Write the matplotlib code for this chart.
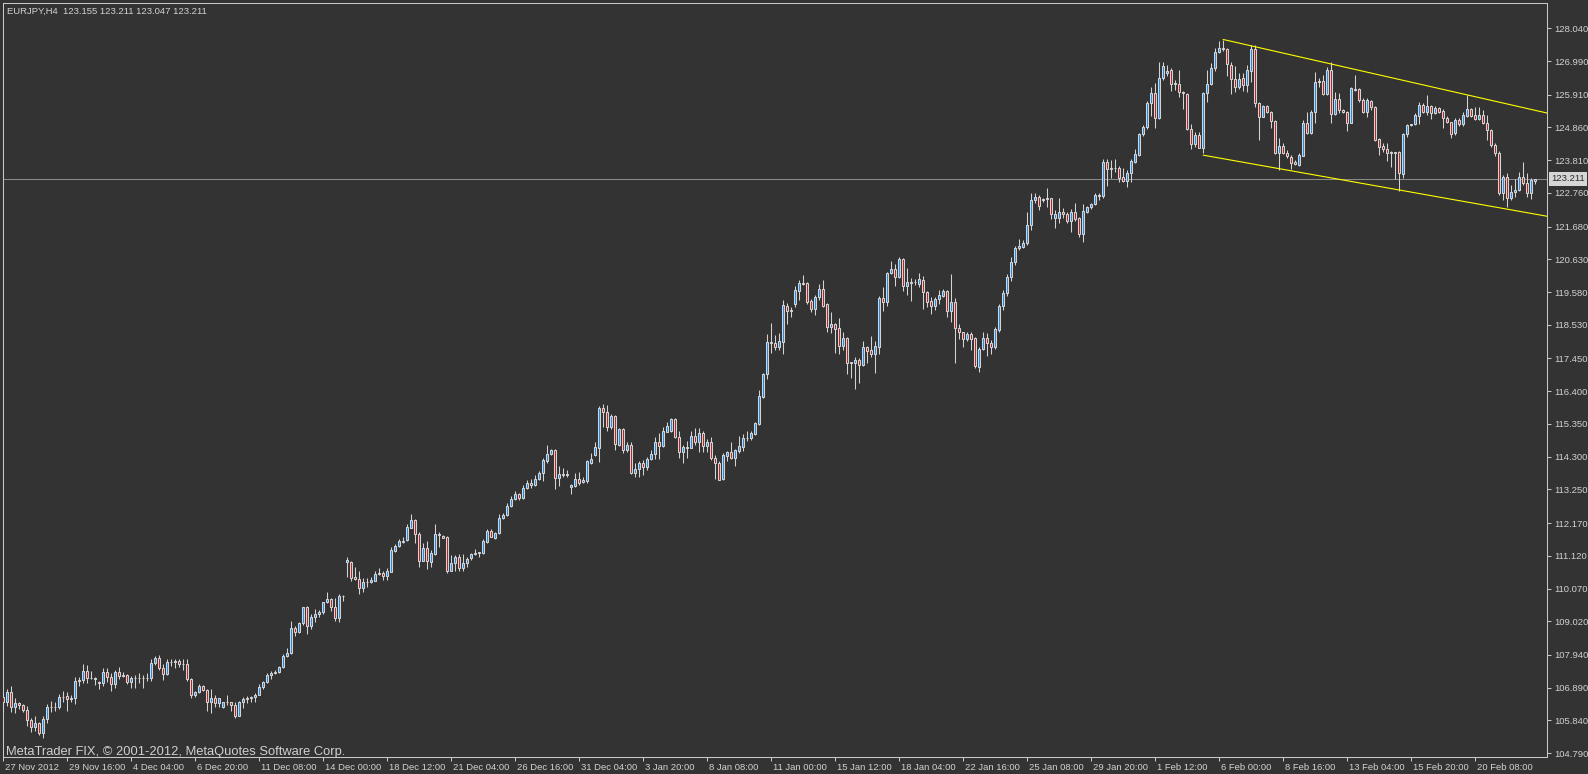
import matplotlib
matplotlib.use("Agg")
import matplotlib.pyplot as plt
from matplotlib.transforms import blended_transform_factory, ScaledTranslation
import numpy as np

header_text = "EURJPY,H4  123.155 123.211 123.047 123.211"
watermark_text = "MetaTrader FIX, \u00a9 2001-2012, MetaQuotes Software Corp."
last_price = 123.211

opens = [
    106.58, 106.42, 106.74, 106.26, 106.39, 106.33, 106.18, 105.86, 105.64, 105.75,
    105.45, 105.88, 106.26, 106.28, 106.28, 106.60, 106.62, 106.52, 106.55, 107.11,
    107.14, 107.43, 107.19, 107.21, 107.09, 107.05, 107.39, 107.25, 107.00, 107.39,
    107.28, 107.30, 107.06, 107.19, 107.19, 107.19, 107.21, 107.21, 107.67, 107.85,
    107.53, 107.32, 107.70, 107.70, 107.75, 107.64, 107.64, 107.16, 106.65, 106.74,
    106.95, 106.81, 106.44, 106.55, 106.41, 106.28, 106.42, 106.42, 106.34, 105.99,
    106.42, 106.52, 106.55, 106.60, 106.66, 106.92, 107.06, 107.30, 107.35, 107.41,
    107.54, 107.91, 107.99, 108.80, 108.69, 108.96, 109.47, 108.87, 109.17, 109.24,
    109.31, 109.63, 109.74, 109.49, 109.14, 109.83, 110.91, 110.93, 110.43, 110.38,
    110.08, 110.29, 110.27, 110.32, 110.54, 110.58, 110.47, 110.61, 111.29, 111.44,
    111.57, 111.63, 112.02, 112.27, 111.82, 110.97, 111.36, 110.93, 111.18, 111.79,
    111.77, 111.73, 110.64, 110.88, 111.07, 110.72, 110.88, 111.04, 111.18, 111.22,
    111.20, 111.57, 111.92, 111.68, 111.84, 112.32, 112.43, 112.72, 112.95, 113.10,
    112.98, 113.30, 113.45, 113.40, 113.60, 113.77, 114.17, 114.38, 114.51, 113.61,
    113.70, 113.73, 113.32, 113.37, 113.57, 113.50, 113.52, 114.11, 114.35, 114.57,
    115.85, 115.74, 115.26, 115.60, 114.68, 115.18, 114.52, 114.68, 113.77, 113.90,
    114.11, 113.96, 114.22, 114.39, 114.76, 114.65, 115.10, 115.13, 115.50, 114.92,
    114.44, 114.57, 114.59, 114.96, 114.78, 115.05, 114.65, 114.78, 114.27, 114.11,
    113.57, 114.33, 114.46, 114.27, 114.49, 114.62, 114.89, 114.89, 115.03, 115.35,
    116.23, 116.94, 117.94, 117.94, 117.83, 117.99, 119.13, 118.97, 119.20, 119.62,
    119.84, 119.88, 119.29, 119.04, 119.41, 119.68, 119.19, 118.45, 118.56, 118.42,
    117.86, 118.10, 117.29, 117.32, 117.40, 117.24, 117.81, 117.72, 117.58, 117.83,
    119.38, 119.27, 120.20, 120.31, 120.05, 120.64, 119.79, 119.88, 119.89, 119.83,
    119.97, 119.57, 119.30, 119.14, 119.35, 119.46, 119.61, 118.98, 119.25, 118.42,
    118.29, 118.06, 118.23, 118.10, 117.19, 117.75, 118.10, 117.94, 117.81, 118.36,
    119.13, 119.55, 120.05, 120.55, 120.98, 121.04, 121.14, 121.73, 122.53, 122.62,
    122.53, 122.56, 122.59, 121.94, 121.94, 122.14, 122.07, 121.86, 122.14, 121.94,
    121.43, 122.16, 122.30, 122.40, 122.67, 122.67, 123.74, 123.52, 123.55, 123.57,
    123.28, 123.15, 123.39, 123.76, 123.99, 124.64, 124.86, 125.63, 125.95, 125.15,
    126.44, 126.60, 126.70, 126.24, 126.24, 126.01, 125.93, 124.80, 124.32, 124.62,
    124.21, 125.95, 126.24, 126.76, 127.27, 127.38, 127.38, 126.86, 126.40, 126.15,
    126.43, 126.22, 126.68, 127.38, 125.63, 125.21, 125.55, 125.35, 125.07, 124.03,
    124.26, 124.05, 123.92, 123.74, 123.66, 123.95, 124.99, 124.67, 125.35, 126.31,
    126.35, 125.92, 126.70, 125.28, 125.76, 125.42, 125.35, 125.01, 126.09, 126.09,
    125.74, 125.37, 125.71, 125.53, 124.48, 124.26, 124.16, 124.06, 124.03, 124.06,
    123.37, 124.64, 124.94, 124.96, 125.24, 125.58, 125.37, 125.55, 125.31, 125.47,
    125.39, 125.15, 125.02, 124.67, 125.10, 124.96, 125.24, 125.45, 125.26, 125.12,
    125.26, 124.99, 124.78, 124.30, 124.03, 122.75, 123.28, 122.59, 122.80, 122.85,
    123.26, 123.09, 122.75, 123.155,
]

highs = [
    106.74, 106.84, 106.95, 106.55, 106.44, 106.37, 106.32, 105.93, 105.98, 105.80,
    105.98, 106.36, 106.46, 106.44, 106.68, 106.79, 106.76, 106.65, 107.25, 107.25,
    107.65, 107.62, 107.43, 107.24, 107.12, 107.51, 107.51, 107.35, 107.46, 107.55,
    107.39, 107.32, 107.28, 107.30, 107.35, 107.30, 107.35, 107.81, 107.92, 107.94,
    107.64, 107.81, 107.81, 107.81, 107.81, 107.81, 107.81, 107.19, 106.79, 107.00,
    106.98, 106.84, 106.84, 106.66, 106.57, 106.44, 106.65, 106.44, 106.42, 106.46,
    106.60, 106.64, 106.64, 106.73, 107.01, 107.12, 107.35, 107.43, 107.46, 107.59,
    107.96, 108.15, 109.03, 108.87, 109.01, 109.49, 109.51, 109.24, 109.40, 109.38,
    109.65, 109.95, 109.78, 109.78, 109.90, 109.86, 111.07, 110.95, 110.77, 110.63,
    110.42, 110.42, 110.45, 110.63, 110.72, 110.65, 110.72, 111.41, 111.49, 111.66,
    111.73, 112.13, 112.45, 112.29, 111.90, 111.54, 111.60, 111.31, 112.14, 111.87,
    111.79, 111.76, 111.15, 111.15, 111.18, 111.18, 111.07, 111.20, 111.33, 111.25,
    111.66, 111.97, 111.98, 111.90, 112.46, 112.50, 112.80, 113.05, 113.20, 113.15,
    113.38, 113.55, 113.60, 113.70, 113.85, 114.25, 114.68, 114.54, 114.54, 114.00,
    113.95, 113.87, 113.43, 113.77, 113.80, 113.64, 114.19, 114.41, 114.78, 115.93,
    115.99, 115.96, 115.66, 115.64, 115.21, 115.21, 114.78, 114.78, 114.11, 114.17,
    114.19, 114.30, 114.51, 114.92, 115.07, 115.26, 115.40, 115.53, 115.53, 115.12,
    114.68, 114.81, 115.13, 115.21, 115.21, 115.13, 114.86, 114.92, 114.35, 114.16,
    114.43, 114.49, 114.78, 114.55, 114.97, 115.02, 115.12, 115.12, 115.40, 116.44,
    117.00, 118.23, 118.58, 118.20, 118.26, 119.33, 119.24, 119.09, 119.77, 119.97,
    120.13, 119.91, 119.36, 119.49, 119.83, 119.97, 119.24, 118.95, 118.60, 118.74,
    118.31, 118.13, 117.35, 117.49, 117.45, 118.01, 117.85, 118.17, 118.02, 119.46,
    119.73, 120.21, 120.59, 120.48, 120.69, 120.66, 120.34, 120.02, 119.99, 120.18,
    120.11, 119.63, 119.43, 119.43, 119.65, 119.67, 119.65, 120.16, 119.38, 118.56,
    118.31, 118.31, 118.31, 118.13, 117.83, 118.31, 118.28, 118.04, 118.47, 119.20,
    119.65, 120.15, 120.70, 121.05, 121.27, 121.25, 122.16, 122.75, 122.75, 122.69,
    122.61, 122.91, 122.61, 122.21, 122.59, 122.27, 122.16, 122.24, 122.43, 122.00,
    122.40, 122.35, 122.45, 122.75, 122.77, 123.84, 123.84, 123.80, 123.85, 123.62,
    123.57, 123.50, 123.84, 124.16, 124.67, 124.94, 125.71, 126.17, 126.28, 126.95,
    126.95, 126.86, 126.76, 126.38, 126.70, 126.03, 125.98, 124.96, 124.72, 124.72,
    126.01, 126.70, 126.92, 127.40, 127.63, 127.66, 127.40, 126.95, 126.83, 126.62,
    126.60, 126.86, 127.50, 127.50, 125.69, 125.58, 125.58, 125.40, 125.10, 124.51,
    124.35, 124.14, 123.98, 123.82, 124.03, 125.10, 125.37, 125.42, 126.65, 126.46,
    126.54, 126.81, 126.97, 126.01, 125.98, 125.44, 125.39, 126.17, 126.54, 126.11,
    125.79, 125.79, 125.74, 125.55, 124.51, 124.35, 124.35, 124.10, 124.08, 124.12,
    124.69, 124.96, 124.97, 125.31, 125.69, 125.63, 125.90, 125.58, 125.55, 125.50,
    125.44, 125.23, 125.05, 125.15, 125.15, 125.37, 125.90, 125.47, 125.53, 125.53,
    125.42, 125.26, 124.80, 124.35, 124.11, 123.33, 123.40, 123.00, 123.20, 123.44,
    123.76, 123.41, 123.23, 123.211,
]

lows = [
    106.12, 106.32, 106.12, 106.07, 106.21, 106.12, 105.67, 105.48, 105.51, 105.37,
    105.27, 105.75, 106.10, 106.15, 106.20, 106.42, 106.15, 106.44, 106.37, 106.96,
    107.03, 107.05, 107.17, 106.98, 106.85, 106.95, 107.09, 106.80, 106.87, 107.17,
    107.22, 107.00, 106.87, 106.89, 107.03, 106.89, 107.12, 107.11, 107.62, 107.46,
    107.14, 107.30, 107.59, 107.53, 107.54, 107.46, 107.12, 106.57, 106.60, 106.71,
    106.79, 106.15, 106.09, 106.28, 106.28, 106.25, 106.34, 106.15, 105.93, 105.98,
    106.23, 106.41, 106.44, 106.44, 106.65, 106.85, 107.03, 107.17, 107.32, 107.35,
    107.51, 107.89, 107.97, 108.55, 108.63, 108.90, 108.60, 108.76, 109.01, 109.17,
    109.24, 109.60, 109.35, 109.04, 109.01, 109.68, 110.43, 110.32, 110.35, 109.89,
    109.97, 110.13, 110.24, 110.31, 110.51, 110.35, 110.35, 110.59, 111.25, 111.39,
    111.54, 111.61, 112.00, 111.54, 110.77, 110.95, 110.70, 110.77, 111.15, 111.41,
    111.68, 110.58, 110.63, 110.64, 110.63, 110.63, 110.77, 110.99, 111.15, 111.09,
    111.18, 111.54, 111.71, 111.66, 111.82, 112.30, 112.41, 112.68, 112.90, 112.90,
    112.95, 113.25, 113.30, 113.35, 113.55, 113.53, 114.09, 114.35, 113.26, 113.36,
    113.64, 113.64, 113.10, 113.34, 113.39, 113.45, 113.47, 114.07, 114.33, 114.14,
    115.26, 115.14, 115.19, 114.52, 114.64, 114.43, 114.44, 113.75, 113.64, 113.64,
    113.71, 113.87, 114.19, 114.23, 114.23, 114.60, 115.08, 115.10, 114.89, 114.27,
    114.09, 114.27, 114.57, 114.68, 114.46, 114.44, 114.46, 114.19, 113.58, 113.55,
    113.55, 114.16, 114.22, 114.00, 114.41, 114.49, 114.80, 114.84, 115.00, 115.32,
    116.17, 116.79, 117.64, 117.72, 117.72, 117.59, 118.56, 118.79, 119.09, 119.33,
    119.81, 119.20, 118.93, 118.84, 119.33, 119.11, 118.31, 118.26, 117.64, 117.58,
    117.72, 116.95, 116.83, 116.46, 116.65, 117.21, 117.32, 117.49, 116.97, 117.59,
    118.98, 119.13, 120.16, 119.77, 120.02, 119.62, 119.49, 119.30, 119.81, 119.75,
    119.04, 119.11, 118.87, 119.00, 119.20, 119.43, 118.79, 118.63, 117.29, 118.07,
    117.83, 118.01, 117.72, 117.13, 117.03, 117.72, 117.53, 117.59, 117.74, 118.30,
    119.00, 119.45, 119.95, 120.45, 120.93, 121.00, 121.09, 121.57, 122.43, 122.21,
    122.48, 122.32, 121.91, 121.62, 121.78, 121.94, 121.78, 121.52, 121.86, 121.36,
    121.20, 122.13, 122.24, 122.37, 122.53, 122.59, 122.98, 123.23, 123.44, 123.12,
    123.12, 122.96, 123.12, 123.73, 123.95, 124.60, 124.81, 125.24, 124.83, 125.13,
    126.38, 126.52, 126.04, 126.06, 125.83, 125.45, 124.78, 124.16, 124.22, 124.19,
    124.05, 125.69, 126.22, 126.68, 127.24, 127.32, 126.52, 125.92, 126.01, 126.08,
    126.04, 126.01, 126.33, 125.53, 124.46, 125.18, 125.31, 124.85, 124.01, 123.50,
    124.01, 123.87, 123.52, 123.66, 123.62, 123.94, 124.64, 124.64, 124.99, 126.15,
    125.90, 125.90, 124.99, 125.26, 125.33, 125.31, 124.75, 124.99, 126.04, 125.69,
    125.33, 125.21, 125.42, 124.43, 123.98, 124.08, 123.78, 123.60, 123.20, 122.83,
    123.23, 124.56, 124.92, 124.94, 124.97, 125.33, 125.26, 125.12, 125.29, 125.33,
    124.85, 124.99, 124.51, 124.62, 124.91, 124.92, 125.21, 125.21, 125.10, 125.10,
    124.97, 124.45, 124.24, 123.95, 122.69, 122.53, 122.30, 122.53, 122.64, 122.83,
    123.01, 122.64, 122.55, 123.047,
]

closes = [
    106.42, 106.74, 106.26, 106.39, 106.33, 106.18, 105.86, 105.64, 105.75, 105.45,
    105.88, 106.26, 106.28, 106.28, 106.60, 106.60, 106.52, 106.55, 107.11, 107.14,
    107.43, 107.19, 107.21, 107.16, 107.05, 107.39, 107.25, 107.00, 107.39, 107.28,
    107.30, 107.06, 107.19, 107.19, 107.19, 107.21, 107.21, 107.67, 107.85, 107.53,
    107.32, 107.70, 107.70, 107.75, 107.64, 107.64, 107.16, 106.65, 106.74, 106.95,
    106.81, 106.44, 106.55, 106.41, 106.55, 106.42, 106.42, 106.34, 105.99, 106.42,
    106.52, 106.55, 106.60, 106.66, 106.92, 107.06, 107.30, 107.35, 107.41, 107.54,
    107.91, 107.99, 108.80, 108.69, 108.96, 109.47, 108.87, 109.17, 109.24, 109.31,
    109.63, 109.74, 109.49, 109.14, 109.83, 109.83, 110.99, 110.40, 110.37, 110.08,
    110.29, 110.29, 110.35, 110.54, 110.56, 110.47, 110.63, 111.31, 111.44, 111.60,
    111.61, 112.03, 112.27, 111.81, 110.97, 111.36, 110.95, 111.22, 111.82, 111.82,
    111.70, 110.63, 110.88, 111.07, 110.72, 110.88, 111.02, 111.17, 111.20, 111.23,
    111.61, 111.92, 111.73, 111.86, 112.32, 112.43, 112.72, 112.95, 113.10, 112.98,
    113.30, 113.45, 113.40, 113.60, 113.77, 114.19, 114.39, 114.51, 113.61, 113.73,
    113.73, 113.70, 113.39, 113.57, 113.47, 113.55, 114.16, 114.22, 114.60, 115.85,
    115.74, 115.26, 115.60, 114.70, 115.18, 114.52, 114.68, 113.77, 113.90, 114.11,
    113.96, 114.23, 114.39, 114.76, 114.65, 115.12, 115.28, 115.50, 114.92, 114.44,
    114.62, 114.60, 114.96, 114.78, 115.05, 114.65, 114.78, 114.27, 114.11, 113.55,
    114.35, 114.46, 114.27, 114.52, 114.64, 114.89, 114.89, 115.05, 115.37, 116.25,
    116.95, 117.97, 117.97, 117.83, 118.01, 119.17, 118.98, 119.01, 119.65, 119.86,
    119.86, 119.27, 119.04, 119.41, 119.68, 119.14, 118.45, 118.56, 118.39, 117.86,
    118.10, 117.29, 117.33, 117.40, 117.24, 117.81, 117.70, 117.58, 117.85, 119.38,
    119.27, 120.18, 120.31, 120.05, 120.64, 119.79, 119.89, 119.91, 119.91, 119.99,
    119.57, 119.27, 119.14, 119.35, 119.49, 119.62, 118.98, 119.25, 118.42, 118.29,
    118.06, 118.23, 118.06, 117.21, 117.75, 118.10, 117.94, 117.81, 118.40, 119.13,
    119.55, 120.05, 120.55, 120.98, 121.06, 121.14, 121.73, 122.53, 122.62, 122.35,
    122.55, 122.59, 122.07, 122.07, 122.14, 122.07, 121.86, 122.14, 121.92, 121.43,
    122.18, 122.30, 122.40, 122.69, 122.69, 123.76, 123.52, 123.55, 123.57, 123.25,
    123.15, 123.39, 123.79, 124.01, 124.65, 124.86, 125.63, 125.95, 125.15, 126.44,
    126.83, 126.68, 126.24, 126.28, 125.99, 125.95, 124.80, 124.32, 124.62, 124.21,
    125.95, 126.25, 126.76, 127.27, 127.40, 127.40, 126.88, 126.40, 126.15, 126.40,
    126.22, 126.70, 127.38, 125.63, 125.21, 125.55, 125.35, 125.07, 124.03, 124.26,
    124.03, 123.94, 123.73, 123.68, 123.98, 124.99, 124.67, 125.37, 126.33, 126.35,
    125.92, 126.70, 125.28, 125.76, 125.42, 125.35, 125.01, 126.11, 126.06, 125.74,
    125.37, 125.74, 125.53, 124.46, 124.24, 124.16, 124.05, 124.03, 124.06, 123.39,
    124.64, 124.94, 124.96, 125.26, 125.58, 125.37, 125.55, 125.33, 125.47, 125.37,
    125.15, 125.02, 124.65, 125.10, 124.96, 125.26, 125.45, 125.24, 125.12, 125.26,
    124.99, 124.78, 124.30, 124.03, 122.75, 123.28, 122.59, 122.80, 122.85, 123.26,
    123.09, 122.75, 123.17, 123.211,
]

price_ticks = [128.040, 126.990, 125.910, 124.860, 123.810, 122.760, 121.680,
               120.630, 119.580, 118.530, 117.450, 116.400, 115.350, 114.300,
               113.250, 112.170, 111.120, 110.070, 109.020, 107.940, 106.890,
               105.840, 104.790]

date_labels = ["27 Nov 2012", "29 Nov 16:00", "4 Dec 04:00", "6 Dec 20:00",
               "11 Dec 08:00", "14 Dec 00:00", "18 Dec 12:00", "21 Dec 04:00",
               "26 Dec 16:00", "31 Dec 04:00", "3 Jan 20:00", "8 Jan 08:00",
               "11 Jan 00:00", "15 Jan 12:00", "18 Jan 04:00", "22 Jan 16:00",
               "25 Jan 08:00", "29 Jan 20:00", "1 Feb 12:00", "6 Feb 00:00",
               "8 Feb 16:00", "13 Feb 04:00", "15 Feb 20:00", "20 Feb 08:00"]
date_tick_bars = [0, 16, 32, 48, 64, 80, 96, 112, 128, 144, 160, 176,
                  192, 208, 224, 240, 256, 272, 288, 304, 320, 336, 352, 368]

# channel trend lines: (bar index, price) anchors
channel_top = [(305.0, 127.68), (386.0, 125.32)]
channel_bottom = [(300.0, 123.97), (386.0, 122.01)]

# ---------------- styling ----------------
BG = "#333333"
EDGE = "#d4d4d4"
BULL = "#1e88e5"
BEAR = "#b22222"
TXT = "#d2d2d2"
FONT = "Liberation Sans"

W, H = 1588, 774
fig = plt.figure(figsize=(W / 100, H / 100), dpi=100, facecolor=BG)
left_px, right_px, top_px, bot_px = 2.5, 1547.0, 3.0, 757.3
ax = fig.add_axes([left_px / W, (H - bot_px) / H,
                   (right_px - left_px) / W, (bot_px - top_px) / H])
ax.set_facecolor(BG)

o = np.array(opens); h = np.array(highs); l = np.array(lows); c = np.array(closes)
x = np.arange(len(c))

ax.axhline(last_price, color="#8a8a8a", lw=0.75, zorder=1)

ax.vlines(x, l, h, colors=EDGE, linewidth=0.75, zorder=3)
fills = [BULL if cc >= oo else BEAR for oo, cc in zip(o, c)]
ax.bar(x, np.abs(c - o), bottom=np.minimum(o, c), width=0.5, color=fills,
       edgecolor=EDGE, linewidth=0.75, zorder=4)

for line in (channel_top, channel_bottom):
    (x0, y0), (x1, y1) = line
    ax.plot([x0, x1], [y0, y1], color="#ffff00", lw=0.8, zorder=5)

ax.set_xlim((left_px - 3.3) / 4.0, (right_px - 3.3) / 4.0)
px_per_unit = 31.18
y_top = 128.947 - top_px / px_per_unit
y_bot = 128.947 - bot_px / px_per_unit
ax.set_ylim(y_bot, y_top)

for s in ax.spines.values():
    s.set_color("#c8c8c8")
    s.set_linewidth(0.75)

ax.yaxis.tick_right()
ax.set_yticks(price_ticks)
ax.set_yticklabels([f"{v:.3f}" for v in price_ticks])
ax.tick_params(axis="y", colors="#c8c8c8", labelcolor=TXT, length=3,
               width=0.75, pad=2, labelsize=6.8, direction="out")
for t in ax.get_yticklabels():
    t.set_fontfamily(FONT)

ax.set_xticks(date_tick_bars)
ax.set_xticklabels(date_labels, ha="left")
ax.tick_params(axis="x", colors="#c8c8c8", labelcolor=TXT, length=3,
               width=0.75, pad=1, labelsize=6.8, direction="out")
off = ScaledTranslation(2 / 100, 0, fig.dpi_scale_trans)
for t in ax.get_xticklabels():
    t.set_fontfamily(FONT)
    t.set_transform(t.get_transform() + off)

trans = blended_transform_factory(ax.transAxes, ax.transData)
ax.text(1.0, last_price, f"{last_price:.3f}",
        transform=trans + ScaledTranslation(4 / 100, 0, fig.dpi_scale_trans),
        ha="left", va="center", fontsize=6.8, family=FONT, color="#2a2a2a",
        bbox=dict(boxstyle="square,pad=0.25", fc="#d6d6d6", ec="none"),
        clip_on=False, zorder=10)

fig.text(7 / W, 1 - 11.5 / H, header_text, ha="left", va="center",
         fontsize=6.8, family=FONT, color=TXT)
fig.text(6 / W, 1 - 751.5 / H, watermark_text, ha="left", va="center",
         fontsize=9.3, family=FONT, color="#d0d0d0")

fig.savefig("out.png", dpi=100, facecolor=BG)
